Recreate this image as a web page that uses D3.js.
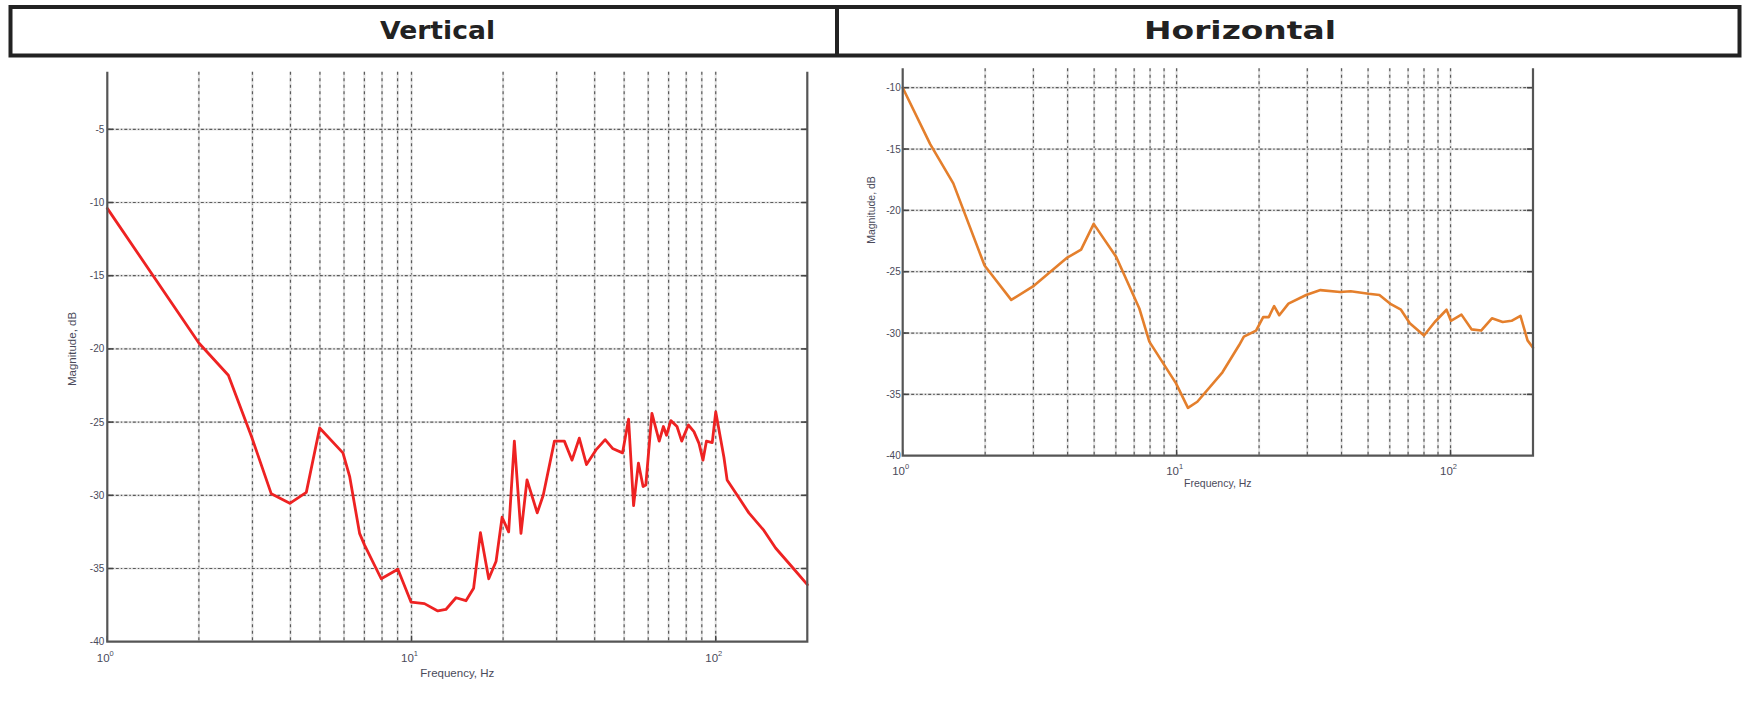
<!DOCTYPE html>
<html>
<head>
<meta charset="utf-8">
<script src="https://cdn.jsdelivr.net/npm/d3@7"></script>
<style>
  html, body { margin: 0; padding: 0; background: #ffffff; }
  svg { display: block; }
</style>
</head>
<body>
<svg id="chart" width="1753" height="719"></svg>
<script>
// ---------------- DATA ----------------
const panelTitles = ["Vertical", "Horizontal"];

// Vertical panel (red)
const vertFreq = [1, 2, 2.5, 2.98, 3.46, 3.98, 4.51, 4.99, 5.95, 6.26, 6.75, 7.01, 7.95, 9.02, 9.97,
  11.03, 12.2, 12.97, 14.0, 15.1, 16.0, 16.85, 17.94, 18.97, 19.85, 20.86, 21.78, 22.9, 23.97,
  25.9, 27.1, 29.5, 31.8, 33.7, 35.6, 37.6, 40.4, 43.3, 45.8, 49.4, 51.7, 53.7, 55.7, 57.7, 58.9,
  61.7, 65.2, 67.3, 68.9, 71.2, 74.6, 77.3, 81.3, 84.8, 88.1, 90.8, 93.2, 97.4, 100, 106.4, 109,
  117.7, 128.5, 144, 157.3, 178.3, 200];
const vertMag = [-10.4, -19.6, -21.8, -26.0, -29.9, -30.55, -29.8, -25.4, -27.1, -28.7, -32.6, -33.4, -35.7, -35.05, -37.3,
  -37.4, -37.9, -37.8, -37.0, -37.2, -36.35, -32.55, -35.7, -34.5, -31.5, -32.5, -26.3, -32.6, -28.95,
  -31.2, -30.0, -26.3, -26.3, -27.6, -26.1, -27.9, -26.9, -26.2, -26.8, -27.1, -24.8, -30.7, -27.8, -29.4, -29.3,
  -24.4, -26.3, -25.3, -25.9, -24.9, -25.3, -26.3, -25.2, -25.65, -26.45, -27.6, -26.3, -26.4, -24.3, -27.4, -28.95,
  -30.0, -31.2, -32.4, -33.6, -34.9, -36.1];

// Horizontal panel (orange)
const horzFreq = [1, 1.26, 1.53, 1.99, 2.49, 2.99, 3.96, 4.48, 4.98, 6.02, 7.31, 7.95, 9.95, 11.0, 11.9,
  14.7, 16.9, 17.6, 19.5, 20.7, 21.7, 22.7, 23.7, 25.6, 29.7, 33.5, 39.5, 43.2, 50.2, 55.0, 60.1,
  65.9, 71.0, 80.0, 87.6, 96.7, 100.3, 109.6, 119.3, 129.3, 141.6, 155, 167, 180, 191, 200];
const horzMag = [-10.0, -14.6, -17.8, -24.5, -27.3, -26.2, -23.9, -23.2, -21.1, -23.8, -28.0, -30.7, -34.1, -36.1, -35.6,
  -33.2, -31.0, -30.3, -29.8, -28.7, -28.7, -27.8, -28.55, -27.6, -26.9, -26.5, -26.65, -26.6, -26.8, -26.9, -27.6,
  -28.1, -29.2, -30.2, -29.1, -28.1, -29.0, -28.5, -29.7, -29.8, -28.8, -29.1, -29.0, -28.6, -30.6, -31.2];

// Axis ticks
const vertYTicks = [-5, -10, -15, -20, -25, -30, -35, -40];
const horzYTicks = [-10, -15, -20, -25, -30, -35, -40];
const xDecadeTicks = [1, 10, 100];
const xDecadeExp = ["0", "1", "2"];
const xGridFreqs = [2, 3, 4, 5, 6, 7, 8, 9, 10, 20, 30, 40, 50, 60, 70, 80, 90, 100];
const xLabel = "Frequency, Hz";
const yLabel = "Magnitude, dB";

// ---------------- DRAW ----------------
const svg = d3.select("#chart");
const tickFont = "'Liberation Sans', Arial, sans-serif";

// Header
svg.append("rect").attr("x", 10.5).attr("y", 7).attr("width", 1729).attr("height", 48.5)
  .attr("fill", "none").attr("stroke", "#222").attr("stroke-width", 4);
svg.append("line").attr("x1", 837).attr("x2", 837).attr("y1", 7).attr("y2", 55.5)
  .attr("stroke", "#222").attr("stroke-width", 4);
const titleSpecs = [{cx: 437.5, w: 115}, {cx: 1240, w: 192}];
panelTitles.forEach((t, i) => {
  svg.append("text").attr("x", titleSpecs[i].cx).attr("y", 38.5)
    .attr("text-anchor", "middle")
    .attr("font-family", "'DejaVu Sans', Verdana, sans-serif")
    .attr("font-weight", "bold").attr("font-size", 25)
    .attr("fill", "#222")
    .attr("textLength", titleSpecs[i].w).attr("lengthAdjust", "spacingAndGlyphs")
    .text(t);
});

function drawPanel(cfg) {
  const g = svg.append("g");
  const x = d3.scaleLog().domain([1, 200]).range([cfg.left, cfg.right]);
  const y = d3.scaleLinear().domain([-40, cfg.refTick]).range([cfg.bottom, cfg.refY]);
  const top = cfg.top;

  // vertical grid
  g.selectAll(".vg").data(xGridFreqs).enter().append("line")
    .attr("x1", d => x(d)).attr("x2", d => x(d))
    .attr("y1", top).attr("y2", cfg.bottom)
    .attr("stroke", "#e4e4e4").attr("stroke-width", 2.2);
  g.selectAll(".vg2").data(xGridFreqs).enter().append("line")
    .attr("x1", d => x(d)).attr("x2", d => x(d))
    .attr("y1", top).attr("y2", cfg.bottom)
    .attr("stroke", "#5a5a5a").attr("stroke-width", 1.2)
    .attr("stroke-dasharray", "3,3.5");

  // horizontal grid
  const hTicks = cfg.yTicks.filter(d => d > -40);
  g.selectAll(".hg").data(hTicks).enter().append("line")
    .attr("x1", cfg.left).attr("x2", cfg.right)
    .attr("y1", d => y(d)).attr("y2", d => y(d))
    .attr("stroke", "#e4e4e4").attr("stroke-width", 2.2);
  g.selectAll(".hg2").data(hTicks).enter().append("line")
    .attr("x1", cfg.left).attr("x2", cfg.right)
    .attr("y1", d => y(d)).attr("y2", d => y(d))
    .attr("stroke", "#5a5a5a").attr("stroke-width", 1.2)
    .attr("stroke-dasharray", "3,2,1.5,2");

  // inward ticks on left and right
  g.selectAll(".tl").data(hTicks).enter().append("line")
    .attr("x1", cfg.left).attr("x2", cfg.left + 6)
    .attr("y1", d => y(d)).attr("y2", d => y(d))
    .attr("stroke", "#444").attr("stroke-width", 1.6);
  g.selectAll(".tr").data(hTicks).enter().append("line")
    .attr("x1", cfg.right - 6).attr("x2", cfg.right)
    .attr("y1", d => y(d)).attr("y2", d => y(d))
    .attr("stroke", "#444").attr("stroke-width", 1.6);
  g.selectAll(".tb").data(xDecadeTicks).enter().append("line")
    .attr("x1", d => x(d)).attr("x2", d => x(d))
    .attr("y1", cfg.bottom).attr("y2", cfg.bottom - 6)
    .attr("stroke", "#444").attr("stroke-width", 1.4);

  // data line
  const pts = cfg.freq.map((f, i) => [f, cfg.mag[i]]);
  g.append("path").datum(pts)
    .attr("d", d3.line().x(d => x(d[0])).y(d => y(d[1])))
    .attr("fill", "none").attr("stroke", cfg.color).attr("stroke-width", cfg.lineW)
    .attr("stroke-linejoin", "round").attr("stroke-linecap", "round");

  // axes lines (left, bottom, right)
  g.append("path")
    .attr("d", `M${cfg.left},${top}V${cfg.bottom}H${cfg.right}V${top}`)
    .attr("fill", "none").attr("stroke", "#555").attr("stroke-width", 2.2);

  // y tick labels
  g.selectAll(".yl").data(cfg.yTicks).enter().append("text")
    .attr("x", cfg.left - cfg.yLabGap).attr("y", d => y(d) + 3.5)
    .attr("text-anchor", "end")
    .attr("font-family", tickFont).attr("font-size", 10)
    .attr("fill", "#4a4a5a")
    .text(d => String(d));

  // x tick labels 10^n
  xDecadeTicks.forEach((d, i) => {
    const t = g.append("text")
      .attr("x", x(d) - 2).attr("y", cfg.xLabY)
      .attr("text-anchor", "middle")
      .attr("font-family", tickFont).attr("font-size", 11.5)
      .attr("fill", "#4a4a5a");
    t.append("tspan").text("10");
    t.append("tspan").attr("dy", -6).attr("font-size", 7.5).text(xDecadeExp[i]);
  });

  // axis labels
  g.append("text").attr("x", (cfg.left + cfg.right) / 2).attr("y", cfg.xTitleY)
    .attr("text-anchor", "middle")
    .attr("font-family", tickFont).attr("font-size", cfg.xTitleSize)
    .attr("fill", "#4a4a5a").text(xLabel);
  g.append("text")
    .attr("transform", `translate(${cfg.yTitleX},${cfg.yTitleY}) rotate(-90)`)
    .attr("text-anchor", "middle")
    .attr("font-family", tickFont).attr("font-size", cfg.yTitleSize)
    .attr("fill", "#4a4a5a").text(yLabel);
}

drawPanel({
  left: 107.3, right: 807.3, top: 71.7, bottom: 641.7,
  refTick: -5, refY: 129.3,
  yTicks: vertYTicks, freq: vertFreq, mag: vertMag,
  color: "#ee2222", lineW: 2.8,
  yLabGap: 3, xLabY: 662, xTitleY: 677, xTitleSize: 11.5,
  yTitleX: 76, yTitleY: 349, yTitleSize: 11.5
});

drawPanel({
  left: 902.7, right: 1533, top: 68.3, bottom: 455.7,
  refTick: -10, refY: 87.7,
  yTicks: horzYTicks, freq: horzFreq, mag: horzMag,
  color: "#e47f2c", lineW: 2.6,
  yLabGap: 2, xLabY: 475, xTitleY: 487, xTitleSize: 10.5,
  yTitleX: 875, yTitleY: 210, yTitleSize: 10.5
});
</script>
</body>
</html>
